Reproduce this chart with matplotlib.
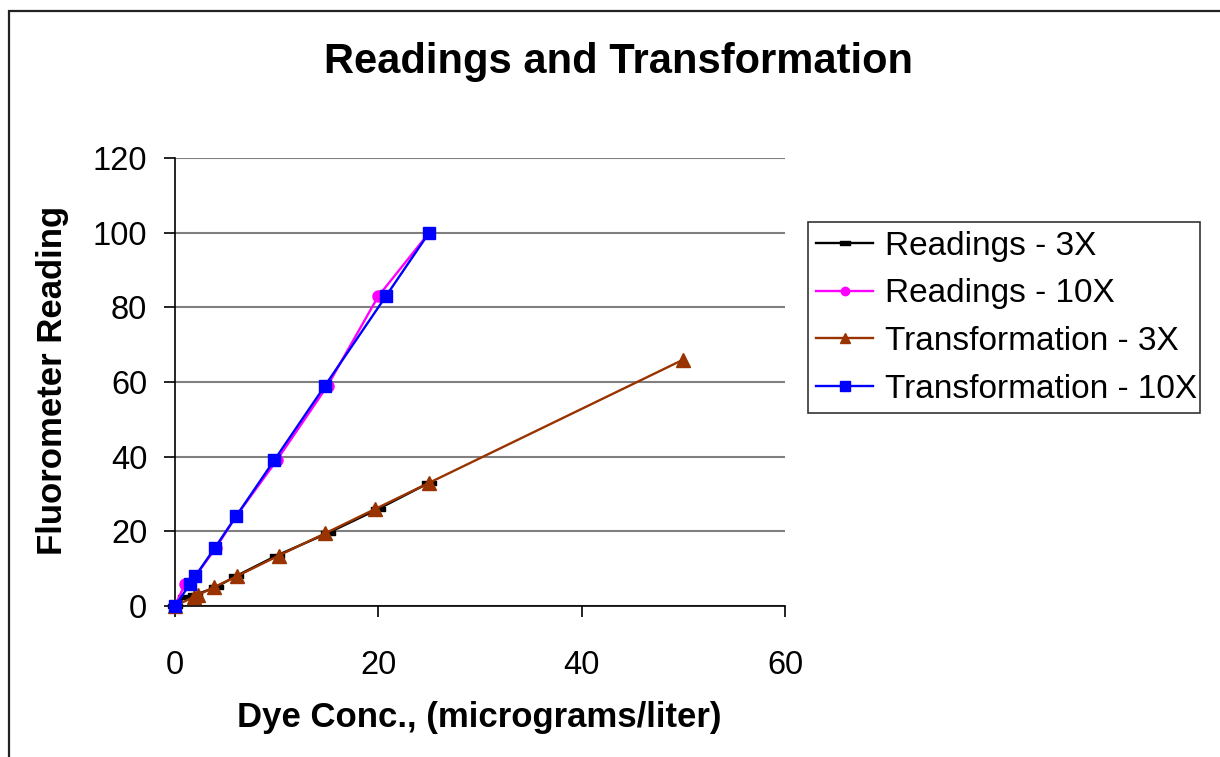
import matplotlib
matplotlib.use("Agg")
import matplotlib.pyplot as plt
from matplotlib.patches import Rectangle

plt.rcParams['font.family'] = ['Liberation Sans', 'DejaVu Sans']

# Readings - 3X
r3_x = [0, 1, 2, 4, 6, 10, 15, 20, 25]
r3_y = [0, 2.5, 3, 5, 8, 13.5, 19.5, 26, 33]
# Readings - 10X
r10_x = [0, 1, 2, 4, 6, 10, 15, 20, 25]
r10_y = [0, 6, 8, 15.5, 24, 39, 59, 83, 100]
# Transformation - 3X
t3_x = [0, 1.9, 2.3, 3.8, 6.1, 10.2, 14.8, 19.7, 25, 50]
t3_y = [0, 2.5, 3, 5, 8, 13.5, 19.5, 26, 33, 66]
# Transformation - 10X
t10_x = [0, 1.5, 2, 3.9, 6, 9.75, 14.75, 20.75, 25]
t10_y = [0, 6, 8, 15.5, 24, 39, 59, 83, 100]

xticks = [0, 20, 40, 60]
yticks = [0, 20, 40, 60, 80, 100, 120]

W, H = 1220, 757
fig = plt.figure(figsize=(W / 100, H / 100), dpi=100)
fig.patch.set_facecolor('white')

# outer chart frame (cut off at right and bottom)
fig.patches.append(Rectangle((8.5 / W, -0.05), 1.1, 1.05 - 11 / H,
                             transform=fig.transFigure, fill=False,
                             edgecolor='#222222', linewidth=1.6))

ax = fig.add_axes([175 / W, 1 - 606 / H, 610 / W, 448 / H])

dash = [(-1, -0.35), (1, -0.35), (1, 0.35), (-1, 0.35), (-1, -0.35)]
ax.plot(r3_x, r3_y, color='black', lw=1.7, marker=dash, ms=10,
        label='Readings - 3X', clip_on=False, zorder=3)
ax.plot(r10_x, r10_y, color='#FF00FF', lw=1.7, marker='o', ms=8,
        label='Readings - 10X', clip_on=False, zorder=4)
ax.plot(t3_x, t3_y, color='#993300', lw=1.7, marker='^', ms=10.5,
        label='Transformation - 3X', clip_on=False, zorder=5)
ax.plot(t10_x, t10_y, color='#0000FF', lw=1.7, marker='s', ms=9,
        label='Transformation - 10X', clip_on=False, zorder=6)

ax.set_xlim(0, 60)
ax.set_ylim(0, 120)
ax.set_xticks(xticks)
ax.set_yticks(yticks)
ax.yaxis.grid(True, color='#808080', lw=1.5)
ax.set_axisbelow(True)
for s in ['top', 'right']:
    ax.spines[s].set_visible(False)
ax.spines['left'].set_linewidth(1.2)
ax.spines['bottom'].set_linewidth(1.2)
ax.tick_params(axis='y', direction='out', length=8, width=1.2, pad=12, labelsize=23.5)
ax.tick_params(axis='x', direction='out', length=8, width=1.2, pad=24, labelsize=23.5)

fig.text(619 / W, 1 - 62 / H, 'Readings and Transformation', ha='center', va='center',
         fontsize=30, fontweight='bold')
fig.text(479 / W, 1 - 718 / H, 'Dye Conc., (micrograms/liter)', ha='center', va='center',
         fontsize=25, fontweight='bold')
fig.text(53 / W, 1 - 380 / H, 'Fluorometer Reading', ha='center', va='center',
         rotation=90, fontsize=25, fontweight='bold')

leg = ax.legend(loc='center left', bbox_to_anchor=(808 / W, 1 - 412 / H, 392 / W, 189 / H),
                bbox_transform=fig.transFigure, mode='expand', fontsize=24,
                frameon=True, fancybox=False, borderaxespad=0, handlelength=1.7,
                handletextpad=0.35, borderpad=0.25, labelspacing=0.5, markerscale=0.75)
leg.get_frame().set_edgecolor('black')
leg.get_frame().set_linewidth(1.2)

fig.savefig('out.png', dpi=100, facecolor='white')
